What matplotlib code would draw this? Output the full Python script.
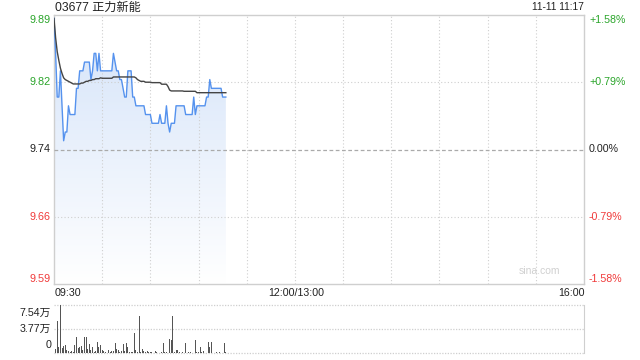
import matplotlib
matplotlib.use("Agg")
import matplotlib.pyplot as plt
import numpy as np
from matplotlib.patches import Polygon

# ---------------- data ----------------
title = "03677 正力新能"
stamp = "11-11 11:17"
prev_close = 9.74
pct_levels = [1.58, 0.79, 0.0, -0.79, -1.58]
price_labels = ["9.89", "9.82", "9.74", "9.66", "9.59"]
pct_labels = ["+1.58%", "+0.79%", "0.00%", "-0.79%", "-1.58%"]
time_labels = ["09:30", "12:00/13:00", "16:00"]
vol_labels = ["7.54万", "3.77万", "0"]
vol_levels = [75400, 37700, 0]

price = [
    9.89, 9.85, 9.80, 9.80, 9.83, 9.79, 9.75, 9.76, 9.76, 9.79,
    9.78, 9.78, 9.78, 9.78, 9.81, 9.81, 9.83, 9.83, 9.83, 9.84,
    9.84, 9.84, 9.84, 9.82, 9.83, 9.85, 9.85, 9.83, 9.85, 9.83,
    9.83, 9.83, 9.83, 9.83, 9.83, 9.83, 9.83, 9.85, 9.84, 9.83,
    9.83, 9.82, 9.82, 9.81, 9.80, 9.80, 9.83, 9.83, 9.83, 9.80,
    9.80, 9.79, 9.79, 9.79, 9.79, 9.79, 9.79, 9.78, 9.78, 9.78,
    9.78, 9.77, 9.77, 9.77, 9.77, 9.77, 9.78, 9.77, 9.77, 9.77,
    9.79, 9.77, 9.76, 9.77, 9.77, 9.77, 9.79, 9.79, 9.79, 9.79,
    9.79, 9.79, 9.78, 9.78, 9.78, 9.78, 9.78, 9.80, 9.78, 9.79,
    9.79, 9.79, 9.79, 9.79, 9.79, 9.80, 9.80, 9.82, 9.81, 9.81,
    9.81, 9.81, 9.81, 9.81, 9.81, 9.80, 9.80, 9.80,
]

avg_price = [
    9.890, 9.868, 9.852, 9.842, 9.833, 9.827, 9.822, 9.820, 9.819, 9.818,
    9.817, 9.816, 9.815, 9.815, 9.815, 9.815, 9.815, 9.816, 9.816, 9.817,
    9.818, 9.818, 9.819, 9.819, 9.820, 9.820, 9.821, 9.821, 9.821, 9.822,
    9.8215, 9.8215, 9.8215, 9.8215, 9.8215, 9.8215, 9.8215, 9.823, 9.823, 9.823,
    9.823, 9.823, 9.823, 9.823, 9.823, 9.823, 9.823, 9.823, 9.823, 9.823,
    9.823, 9.822, 9.820, 9.819, 9.818, 9.818, 9.818, 9.817, 9.817, 9.817,
    9.817, 9.8165, 9.8165, 9.8165, 9.8165, 9.8165, 9.8165, 9.8147, 9.8147, 9.8147,
    9.8147, 9.812, 9.808, 9.807, 9.807, 9.807, 9.807, 9.807, 9.807, 9.807,
    9.807, 9.8066, 9.8066, 9.8066, 9.8066, 9.8066, 9.8066, 9.8066, 9.8066, 9.805,
    9.805, 9.805, 9.805, 9.805, 9.805, 9.805, 9.805, 9.805, 9.805, 9.805,
    9.805, 9.805, 9.805, 9.805, 9.805, 9.805, 9.805, 9.805,
]

volume = [
    21900, 6600, 50900, 9200, 75400, 8100, 11700, 12700, 5000, 3000,
    1000, 3000, 2000, 12700, 25400, 8100, 10200, 11700, 4000, 24400,
    25400, 6600, 14200, 4000, 9200, 1500, 3000, 16800, 9200, 12700,
    5000, 3000, 2000, 1500, 4000, 2000, 3000, 3000, 15300, 6600,
    4000, 1000, 3000, 14200, 3000, 15300, 9200, 1000, 2000, 1500,
    32000, 4000, 1500, 57500, 1000, 6000, 3000, 1000, 3000, 1000,
    1000, 2000, 500, 3000, 1000, 500, 6000, 1000, 15000, 1000,
    1000, 500, 22600, 20000, 57800, 1000, 5000, 4000, 1000, 500,
    1000, 500, 15000, 500, 1000, 1000, 500, 500, 20000, 1000,
    1000, 9000, 1000, 3000, 500, 500, 17600, 9000, 17600, 1000,
    500, 1000, 500, 1000, 500, 500, 16000, 1000,
]

total_minutes = 330  # 09:30-12:00 + 13:00-16:00

# ---------------- figure ----------------
W, H = 640, 360
fig = plt.figure(figsize=(6.4, 3.6), dpi=100)
L, R = 54, 584
ax = fig.add_axes([L / W, 1 - 284 / H, (R - L) / W, (284 - 15) / H])
vax = fig.add_axes([L / W, 1 - 353 / H, (R - L) / W, (353 - 305) / H])

green = "#2aa52a"
red = "#f03a3a"
black = "#222222"
grid_c = "#cfcfcf"
num_font = "Liberation Sans"
cjk_font = ["Liberation Sans", "Noto Sans CJK SC"]

levels = [prev_close * (1 + p / 100) for p in pct_levels]
hi, lo = levels[0], levels[-1]
ax.set_xlim(0, total_minutes)
ax.set_ylim(lo, hi)
ax.set_xticks([])
ax.set_yticks([])
for s in ax.spines.values():
    s.set_color(grid_c)
    s.set_linewidth(1)

for xv in range(30, total_minutes, 30):
    ax.axvline(xv, color=grid_c, lw=0.8, ls=(0, (1, 2)), zorder=3)
for lv, p in zip(levels[1:-1], pct_levels[1:-1]):
    if p == 0:
        ax.axhline(lv, color="#aaaaaa", lw=0.9, ls=(0, (3, 2)), zorder=3)
    else:
        ax.axhline(lv, color=grid_c, lw=0.8, ls=(0, (1, 2)), zorder=3)

m = np.arange(len(price))
# gradient fill under line
grad = np.zeros((256, 1, 4))
top_c = np.array([212, 227, 249]) / 255
bot_c = np.array([255, 255, 255]) / 255
t = np.linspace(0, 1, 256)[:, None]
grad[:, 0, :3] = top_c * (1 - t) + bot_c * t
grad[:, 0, 3] = 1
img = ax.imshow(grad, extent=[0, m[-1], lo, hi], aspect="auto", origin="upper", zorder=2)
verts = [(0, lo)] + list(zip(m, price)) + [(m[-1], lo)]
poly = Polygon(verts, closed=True, facecolor="none", edgecolor="none", transform=ax.transData)
ax.add_patch(poly)
img.set_clip_path(poly)
ax.set_xlim(0, total_minutes)
ax.set_ylim(lo, hi)

ax.plot(m, price, color="#5592ee", lw=1.0, zorder=4)
ax.plot(m, avg_price, color="#444444", lw=1.0, zorder=5)

# price labels
ytr = ax.get_yaxis_transform()
for i, (lv, lab, plab, p) in enumerate(zip(levels, price_labels, pct_labels, pct_levels)):
    col = green if p > 0 else (red if p < 0 else black)
    va = "top" if i == 0 else ("bottom" if i == len(levels) - 1 else "center")
    ax.text(-3 / (R - L), lv, lab, transform=ytr, ha="right", va=va,
            color=col, fontsize=7.8, family=num_font)
    ax.text(1 + 5 / (R - L), lv, plab, transform=ytr, ha="left", va=va,
            color=col, fontsize=7.7, family=num_font)

# title and stamp
fig.text(55 / W, 1 - 8 / H, title, ha="left", va="center", fontsize=8.7,
         family=cjk_font, color=black)
fig.text(R / W, 1 - 7.5 / H, stamp, ha="right", va="center", fontsize=7.4,
         family=num_font, color=black)

# time labels
fig.text(55 / W, 1 - 293 / H, time_labels[0], ha="left", va="center", fontsize=7.7,
         family=num_font, color=black)
fig.text(296 / W, 1 - 293 / H, time_labels[1], ha="center", va="center", fontsize=7.7,
         family=num_font, color=black)
fig.text(585 / W, 1 - 293 / H, time_labels[2], ha="right", va="center", fontsize=7.7,
         family=num_font, color=black)

# watermark
ax.text(0.955, 0.03, "sina.com", transform=ax.transAxes, ha="right", va="bottom",
        fontsize=7.5, color="#d0d0d0", family=num_font)

# ---------------- volume ----------------
vax.set_xlim(0, total_minutes)
vax.set_ylim(0, vol_levels[0])
vax.set_xticks([])
vax.set_yticks([])
for k in ["top", "bottom", "left"]:
    vax.spines[k].set_visible(False)
vax.spines["right"].set_color(grid_c)
for lv in vol_levels:
    vax.axhline(lv, color=grid_c, lw=0.9, ls=(0, (1, 1.2)), zorder=1, clip_on=False)
vax.bar(m, volume, width=0.6, color="#555555", zorder=3)
vtr = vax.get_yaxis_transform()
for i, (lv, lab) in enumerate(zip(vol_levels, vol_labels)):
    va = "top" if i == 0 else ("bottom" if i == len(vol_levels) - 1 else "center")
    off = -2 if i == 0 else (2 if i == len(vol_levels) - 1 else 0)
    vax.annotate(lab, xy=(-3 / (R - L), lv), xycoords=vtr, xytext=(0, off),
                 textcoords="offset points", ha="right", va=va,
                 fontsize=7.7, family=cjk_font, color=black)

fig.savefig("out.png", dpi=100)
